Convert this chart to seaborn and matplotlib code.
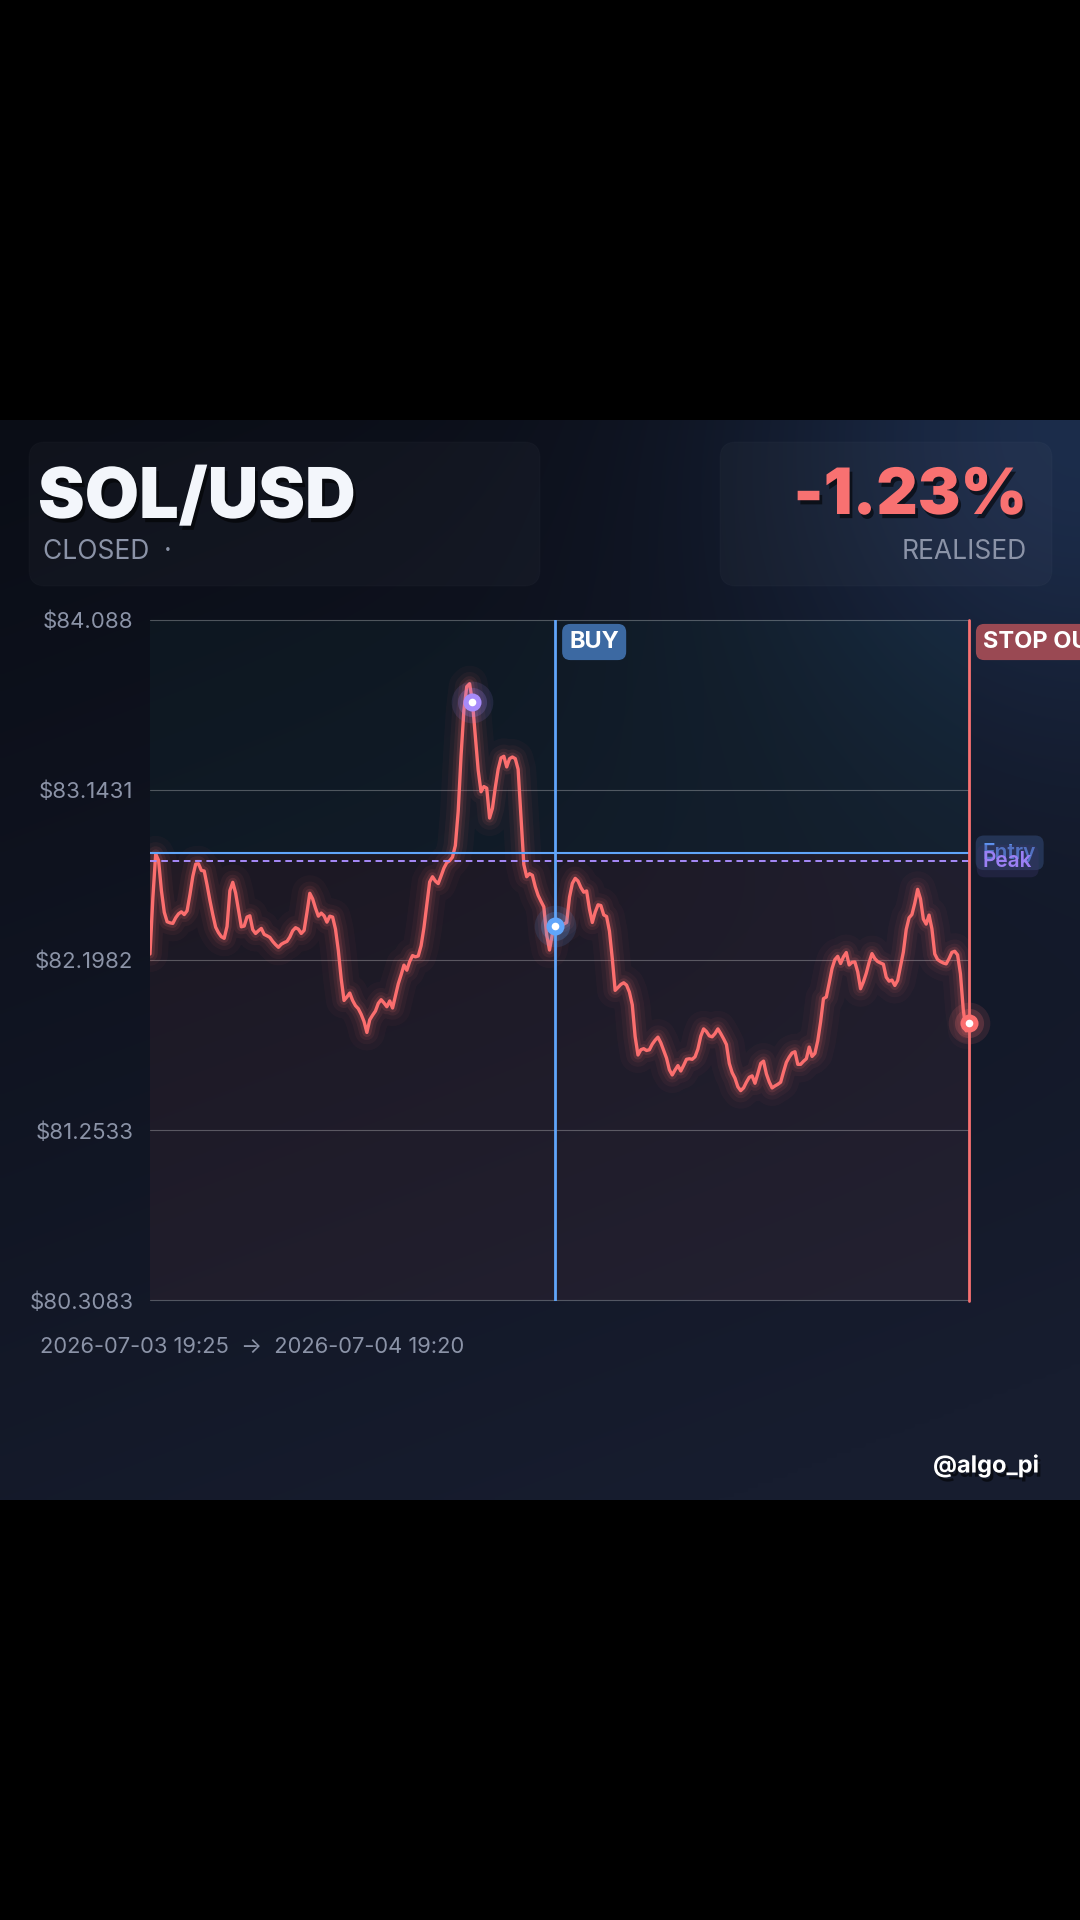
import numpy as np
import pandas as pd
import matplotlib
matplotlib.use("Agg")
import matplotlib.pyplot as plt
import matplotlib.patheffects as pe
from matplotlib.patches import FancyBboxPatch
import seaborn as sns

# ------------------------------------------------------------
# data (5-minute closes)
# ------------------------------------------------------------
symbol = "SOL/USD"
status = "CLOSED  ·"
pnl_text = "-1.23%"
pnl_caption = "REALISED"
time_range = "2026-07-03 19:25  →  2026-07-04 19:20"
handle = "@algo_pi"

prices = [
    82.233, 82.544, 82.789, 82.753, 82.585, 82.465, 82.412, 82.406, 82.403, 82.434, 82.456, 82.467,
    82.452, 82.473, 82.563, 82.664, 82.732, 82.734, 82.697, 82.694, 82.616, 82.530, 82.452, 82.382,
    82.351, 82.329, 82.320, 82.386, 82.585, 82.631, 82.572, 82.478, 82.384, 82.388, 82.438, 82.445,
    82.368, 82.347, 82.362, 82.375, 82.342, 82.334, 82.325, 82.303, 82.285, 82.270, 82.287, 82.296,
    82.303, 82.327, 82.362, 82.379, 82.371, 82.347, 82.364, 82.463, 82.570, 82.539, 82.487, 82.443,
    82.460, 82.445, 82.410, 82.443, 82.438, 82.371, 82.252, 82.095, 81.975, 81.994, 82.016, 81.975,
    81.946, 81.929, 81.898, 81.858, 81.797, 81.867, 81.893, 81.916, 81.959, 81.979, 81.961, 81.940,
    81.972, 81.933, 82.001, 82.067, 82.117, 82.171, 82.143, 82.191, 82.224, 82.217, 82.222, 82.279,
    82.379, 82.506, 82.633, 82.662, 82.638, 82.624, 82.666, 82.710, 82.740, 82.751, 82.771, 82.835,
    83.025, 83.333, 83.587, 83.718, 83.734, 83.631, 83.445, 83.255, 83.134, 83.163, 83.154, 82.988,
    83.042, 83.158, 83.259, 83.322, 83.331, 83.272, 83.318, 83.327, 83.318, 83.259, 82.997, 82.730,
    82.662, 82.679, 82.670, 82.607, 82.559, 82.526, 82.495, 82.340, 82.255, 82.344, 82.390, 82.390,
    82.393, 82.399, 82.408, 82.548, 82.625, 82.653, 82.638, 82.602, 82.576, 82.583, 82.482, 82.408,
    82.465, 82.506, 82.502, 82.450, 82.441, 82.360, 82.207, 82.031, 82.047, 82.064, 82.073, 82.060,
    82.021, 81.951, 81.775, 81.672, 81.701, 81.707, 81.697, 81.701, 81.732, 81.754, 81.771, 81.740,
    81.697, 81.655, 81.590, 81.561, 81.589, 81.613, 81.583, 81.614, 81.648, 81.651, 81.648, 81.662,
    81.705, 81.776, 81.817, 81.802, 81.778, 81.773, 81.791, 81.817, 81.791, 81.762, 81.730, 81.625,
    81.574, 81.543, 81.495, 81.474, 81.489, 81.521, 81.548, 81.556, 81.515, 81.568, 81.625, 81.638,
    81.567, 81.522, 81.489, 81.500, 81.509, 81.521, 81.578, 81.631, 81.660, 81.683, 81.690, 81.620,
    81.620, 81.637, 81.651, 81.716, 81.664, 81.681, 81.751, 81.856, 81.985, 81.994, 82.071, 82.152,
    82.202, 82.220, 82.180, 82.217, 82.241, 82.172, 82.187, 82.189, 82.134, 82.040, 82.078, 82.126,
    82.187, 82.235, 82.207, 82.191, 82.183, 82.176, 82.104, 82.082, 82.088, 82.058, 82.086, 82.165,
    82.244, 82.369, 82.434, 82.452, 82.515, 82.592, 82.539, 82.427, 82.399, 82.449, 82.373, 82.233,
    82.202, 82.191, 82.183, 82.178, 82.207, 82.242, 82.248, 82.228, 82.123, 81.922, 81.806, 81.850,
]

entry_price = 82.795
peak_line = 82.749
buy_idx = 142
peak_idx = 113
exit_idx = 287

y_ticks = [80.3083, 81.2533, 82.1982, 83.1431, 84.088]
y_tick_labels = ["$80.3083", "$81.2533", "$82.1982", "$83.1431", "$84.088"]

df = pd.DataFrame({"bar": np.arange(len(prices)), "price": prices})

# ------------------------------------------------------------
# style
# ------------------------------------------------------------
sns.set_theme(style="dark")
plt.rcParams["font.family"] = ["Inter", "DejaVu Sans"]

RED = "#fb6e6e"
RED_TXT = "#f87171"
BLUE = "#60a5fa"
PURPLE = "#a78bfa"
GRAY = "#8b93a7"

W, H = 1080, 1920
fig = plt.figure(figsize=(W / 100, H / 100), dpi=100, facecolor="black")

# background card with gradient + glow top right
bg = fig.add_axes([0, 0, 1, 1], zorder=0)
n = 220
yy, xx = np.mgrid[0:1:n * 1j, 0:1:n * 1j]
c_tl = np.array([10, 13, 22]) / 255
c_bot = np.array([23, 29, 47]) / 255
t = np.clip(0.8 * yy + 0.3 * xx, 0, 1)[..., None]
img = c_tl + (c_bot - c_tl) * t
r = np.sqrt(((1 - xx) * 1080) ** 2 + (yy * 1080) ** 2)
g = np.exp(-(r / 330.0) ** 2)[..., None]
glow_c = np.array([34, 56, 94]) / 255
img = img + (glow_c - img) * g * 0.7
bg.imshow(img, extent=[0, W, 1500, 420], interpolation="bilinear", aspect="auto")
bg.set_xlim(0, W)
bg.set_ylim(H, 0)
bg.axis("off")

for x0, y0, w, h in [(29, 442, 511, 144), (720, 442, 332, 144)]:
    bg.add_patch(FancyBboxPatch((x0, y0), w, h, boxstyle="round,pad=0,rounding_size=16",
                                fc=(1, 1, 1, 0.026), ec=(1, 1, 1, 0.015), lw=1))

# ------------------------------------------------------------
# price chart
# ------------------------------------------------------------
ax = fig.add_axes([150 / W, 1 - 1300.5 / H, 819 / W, 680.5 / H], zorder=2)
ax.patch.set_alpha(0)
ymin, ymax = y_ticks[0], y_ticks[-1]
ax.set_xlim(0, len(prices) - 1)
ax.set_ylim(ymin, ymax)

ax.axhspan(entry_price, ymax, color="#2dd4bf", alpha=0.04, lw=0, zorder=0)
ax.axhspan(ymin, entry_price, color="#f87171", alpha=0.06, lw=0, zorder=0)

for yt in y_ticks:
    ax.axhline(yt, color="white", alpha=0.27, lw=0.8, clip_on=False, zorder=1)

# glow under the price line
for lw, a in [(26, 0.035), (17, 0.05), (11, 0.08), (6.5, 0.13)]:
    sns.lineplot(data=df, x="bar", y="price", color=RED, linewidth=lw, alpha=a,
                 ax=ax, legend=False, zorder=3, solid_capstyle="round")
sns.lineplot(data=df, x="bar", y="price", color=RED, linewidth=2.4, ax=ax,
             legend=False, zorder=4)

ax.axhline(entry_price, color=BLUE, lw=1.5, zorder=5)
ax.axhline(peak_line, color=PURPLE, lw=1.4, dashes=(3.4, 2.4), zorder=5)
ax.axvline(buy_idx, color=BLUE, lw=2.0, zorder=5)
ax.axvline(exit_idx, color=RED_TXT, lw=2.0, zorder=5, clip_on=False)

# event markers
for idx, col in [(peak_idx, PURPLE), (buy_idx, BLUE), (exit_idx, RED)]:
    yv = prices[idx]
    ax.plot(idx, yv, "o", ms=30, color=col, alpha=0.12, mew=0, zorder=6, clip_on=False)
    ax.plot(idx, yv, "o", ms=21, color=col, alpha=0.2, mew=0, zorder=6, clip_on=False)
    ax.plot(idx, yv, "o", ms=13, color=col, mew=0, zorder=7, clip_on=False)
    ax.plot(idx, yv, "o", ms=5.5, color="white", mew=0, zorder=8, clip_on=False)

# tag labels
ax.annotate("BUY", xy=(buy_idx, ymax), xytext=(14, -22), textcoords="offset pixels",
            ha="left", va="center", fontsize=17, fontweight="bold", color="white",
            bbox=dict(boxstyle="round,pad=0.3,rounding_size=0.35", fc="#3c69a2", ec="none"),
            annotation_clip=False, zorder=9)
ax.annotate("STOP OUT", xy=(exit_idx, ymax), xytext=(14, -22), textcoords="offset pixels",
            ha="left", va="center", fontsize=17, fontweight="bold", color="white",
            bbox=dict(boxstyle="round,pad=0.3,rounding_size=0.35", fc="#9a4953", ec="none"),
            annotation_clip=False, zorder=9)
ax.annotate("Entry", xy=(exit_idx, entry_price), xytext=(14, 0), textcoords="offset pixels",
            ha="left", va="center", fontsize=15, fontweight="semibold", color="#5f93f2",
            bbox=dict(boxstyle="round,pad=0.35,rounding_size=0.4", fc="#2a3d63", ec="none", alpha=0.75),
            annotation_clip=False, zorder=9)
ax.annotate("Peak", xy=(exit_idx, peak_line), xytext=(14, 0), textcoords="offset pixels",
            ha="left", va="center", fontsize=15, fontweight="semibold", color="#9b80f5",
            bbox=dict(boxstyle="round,pad=0.3,rounding_size=0.4", fc="#3a3468", ec="none", alpha=0.35),
            annotation_clip=False, zorder=10)

ax.set_yticks(y_ticks)
ax.set_yticklabels(y_tick_labels)
ax.set_xticks([])
ax.tick_params(axis="y", length=0, pad=12, labelcolor=GRAY, labelsize=16)
ax.set_xlabel("")
ax.set_ylabel("")
ax.grid(False)
for s in ax.spines.values():
    s.set_visible(False)

# ------------------------------------------------------------
# header / footer texts
# ------------------------------------------------------------
ov = fig.add_axes([0, 0, 1, 1], zorder=5)
ov.set_xlim(0, W)
ov.set_ylim(H, 0)
ov.axis("off")
ov.patch.set_alpha(0)

shadow = [pe.withSimplePatchShadow(offset=(2, -3), shadow_rgbFace="black", alpha=0.55)]
ov.text(38, 518, symbol, ha="left", va="baseline", fontsize=50.5, fontweight="black",
        color="#f3f6fb", path_effects=shadow)
ov.text(43, 559, status, ha="left", va="baseline", fontsize=19, color=GRAY)
ov.text(1027, 514, pnl_text, ha="right", va="baseline", fontsize=46, fontweight="black",
        color=RED_TXT, path_effects=shadow)
ov.text(1027, 559, pnl_caption, ha="right", va="baseline", fontsize=19, color=GRAY)
ov.text(40, 1353, time_range, ha="left", va="baseline", fontsize=15.8, color=GRAY)
ov.text(1039, 1466, handle, ha="right", va="center", fontsize=17, fontweight="bold",
        color="white", path_effects=shadow)

fig.savefig("out.png", dpi=100, facecolor="black")
